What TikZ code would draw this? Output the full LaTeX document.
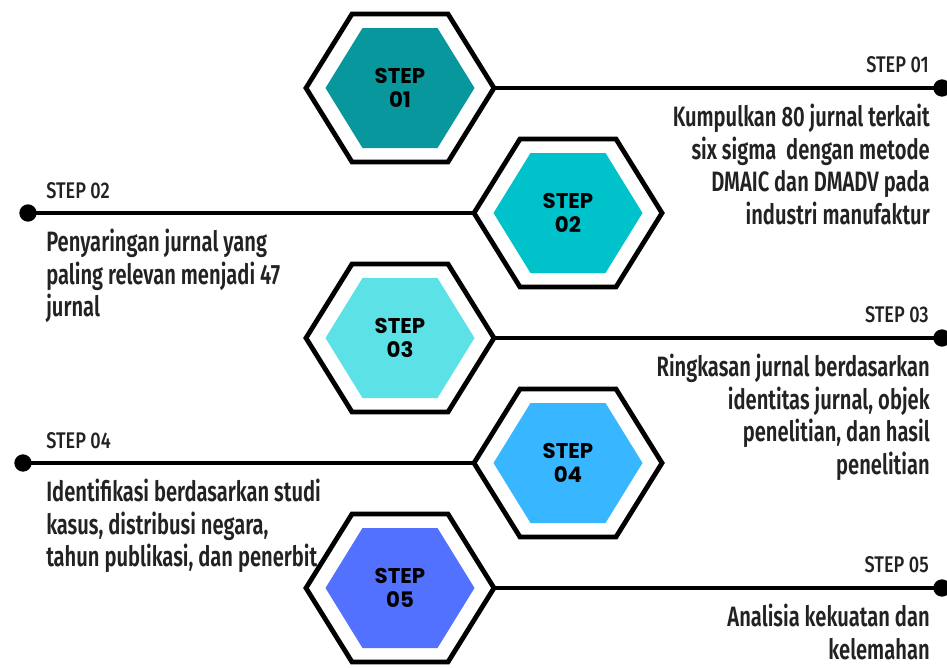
\documentclass[tikz,border=0pt]{standalone}
\usepackage{fontspec}
\setmainfont{Fira Sans}
\newfontfamily\descfont{Fira Sans SemiBold}[FakeStretch=0.72]
\newfontfamily\labelfont{Fira Sans Medium}[FakeStretch=0.8]
\newfontfamily\hexfont{Poppins}
\definecolor{stepone}{HTML}{08979C}
\definecolor{steptwo}{HTML}{00C2CB}
\definecolor{stepthree}{HTML}{5CE1E6}
\definecolor{stepfour}{HTML}{38B6FF}
\definecolor{stepfive}{HTML}{5271FF}
\definecolor{inkgrey}{HTML}{222222}

\tikzset{
  hexline/.style={draw=black, line width=3.6pt, line join=miter, fill=white},
  hextext/.style={inner sep=0pt, align=center, text=black,
    font=\hexfont\bfseries\fontsize{16}{17.5}\selectfont},
  conn/.style={draw=black, line width=3pt},
  dot/.style={circle, fill=black, inner sep=0pt, minimum size=13pt},
  steplabel/.style={inner sep=0pt, text=inkgrey,
    font=\labelfont\fontsize{17}{19}\selectfont},
  desc/.style={inner sep=0pt, text=inkgrey,
    font=\descfont\fontsize{21}{24.4}\selectfont}
}

\begin{document}
\begin{tikzpicture}[x=0.75pt,y=-0.75pt]
    \useasboundingbox (0,0) rectangle (947,668);

    % connectors first, hexagons on top
    \foreach \n/\x/\y in {1/400/88,2/568/213,3/400/338,4/568/463,5/400/588}{
      \coordinate (s\n-w) at (\x-94,\y);
      \coordinate (s\n-e) at (\x+94,\y);
    }
    \node[dot] (d1) at (942,88) {};
    \node[dot] (d2) at (28,213) {};
    \node[dot] (d3) at (942,338) {};
    \node[dot] (d4) at (23,463) {};
    \node[dot] (d5) at (942,588) {};
    \draw[conn] (s1-e) -- (d1.center);
    \draw[conn] (s2-w) -- (d2.center);
    \draw[conn] (s3-e) -- (d3.center);
    \draw[conn] (s4-w) -- (d4.center);
    \draw[conn] (s5-e) -- (d5.center);

    \foreach \n/\x/\y/\c in {1/400/88/stepone,2/568/213/steptwo,3/400/338/stepthree,4/568/463/stepfour,5/400/588/stepfive}{
      \draw[hexline] (\x-94,\y) -- (\x-48,\y-74) -- (\x+48,\y-74) -- (\x+94,\y)
        -- (\x+48,\y+74) -- (\x-48,\y+74) -- cycle;
      \fill[\c] (\x-74.5,\y) -- (\x-37.5,\y-60) -- (\x+37.5,\y-60) -- (\x+74.5,\y)
        -- (\x+37.5,\y+60) -- (\x-37.5,\y+60) -- cycle;
      \node[hextext] (s\n) at (\x,\y) {STEP\\0\n};
    }

    % step labels
    \node[steplabel, anchor=base east] (l1) at (929,72) {STEP 01};
    \node[steplabel, anchor=base west] (l2) at (46,198) {STEP 02};
    \node[steplabel, anchor=base east] (l3) at (929,322) {STEP 03};
    \node[steplabel, anchor=base west] (l4) at (46,448) {STEP 04};
    \node[steplabel, anchor=base east] (l5) at (929,572) {STEP 05};

    % descriptions
    \node[desc, anchor=north east, align=right] (t1) at (930,104)
      {Kumpulkan 80 jurnal terkait\\six sigma~ dengan metode\\DMAIC dan DMADV pada\\industri manufaktur};
    \node[desc, anchor=north west, align=left] (t2) at (46,229)
      {Penyaringan jurnal yang\\paling relevan menjadi 47\\jurnal};
    \node[desc, anchor=north east, align=right] (t3) at (930,354)
      {Ringkasan jurnal berdasarkan\\identitas jurnal, objek\\penelitian, dan hasil\\penelitian};
    \node[desc, anchor=north west, align=left] (t4) at (46,479)
      {Identifikasi berdasarkan studi\\kasus, distribusi negara,\\tahun publikasi, dan penerbit};
    \node[desc, anchor=north east, align=right] (t5) at (930,604)
      {Analisia kekuatan dan\\kelemahan};
\end{tikzpicture}
\end{document}
